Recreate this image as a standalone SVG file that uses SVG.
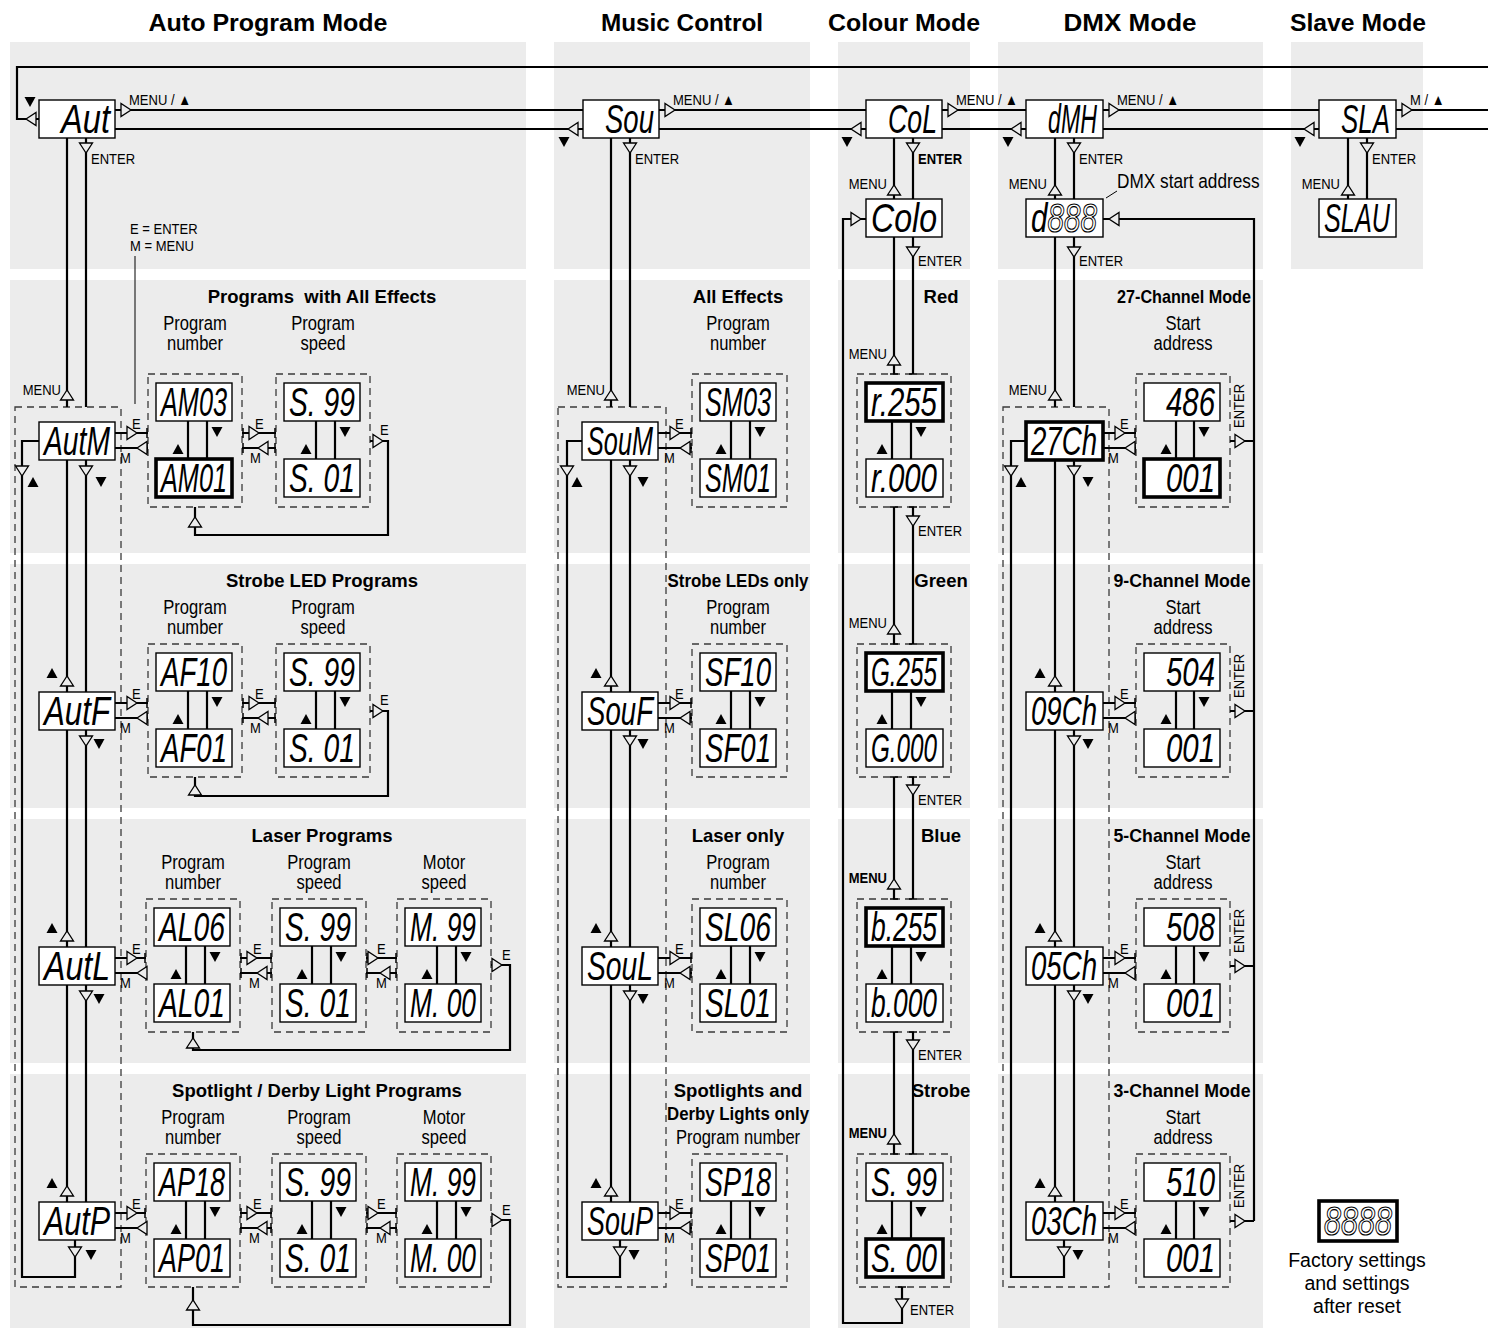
<svg xmlns="http://www.w3.org/2000/svg" width="1488" height="1337" viewBox="0 0 1488 1337">
<style>
.bg{fill:#ececec}
.ln{fill:none;stroke:#000;stroke-width:2.2}
.tk{fill:none;stroke:#000;stroke-width:1.5}
.thin{fill:none;stroke:#000;stroke-width:1}
.dsh{fill:none;stroke:#3a3a3a;stroke-width:1.3;stroke-dasharray:7 5}
.bx{fill:#fff;stroke:#000;stroke-width:1.4}
.bk{fill:#fff;stroke:#000;stroke-width:3.6}
.oa{fill:#ececec;stroke:#000;stroke-width:1.3}
.d{font-family:"Liberation Sans",Arial,sans-serif;font-style:italic;font-size:28px;fill:#000}
.hol{fill:none;stroke:#000;stroke-width:0.8}
.h1{font-family:"Liberation Sans",Arial,sans-serif;font-weight:bold;font-size:24.5px;text-anchor:middle}
.h2{font-family:"Liberation Sans",Arial,sans-serif;font-weight:bold;font-size:18.5px;text-anchor:middle}
.lb{font-family:"Liberation Sans",Arial,sans-serif;font-size:19.5px;text-anchor:middle;transform:scaleX(.85);transform-box:fill-box;transform-origin:center}
.s{font-family:"Liberation Sans",Arial,sans-serif;font-size:15.5px;transform:scaleX(.84);transform-box:fill-box;transform-origin:left center}
.r{font-family:"Liberation Sans",Arial,sans-serif;font-size:15.5px;text-anchor:middle}
.ft{font-family:"Liberation Sans",Arial,sans-serif;font-size:19.5px;text-anchor:middle}
.e{text-anchor:end;transform-origin:right center}
.b{font-weight:bold}
</style>
<defs>
<polygon id="aR" class="oa" points="0,0 -10,-6.5 -10,6.5"/>
<polygon id="aL" class="oa" points="0,0 10,-6.5 10,6.5"/>
<polygon id="aD" class="oa" points="0,0 -6.5,-10 6.5,-10"/>
<polygon id="aU" class="oa" points="0,0 -6.5,10 6.5,10"/>
<polygon id="tU" points="0,-5 -5.5,5 5.5,5"/>
<polygon id="tD" points="0,5 -5.5,-5 5.5,-5"/>
</defs>
<rect width="1488" height="1337" fill="#fff"/>
<g id="panels">
<rect class="bg" x="10" y="42" width="516" height="227"/>
<rect class="bg" x="554" y="42" width="256" height="227"/>
<rect class="bg" x="838" y="42" width="132" height="227"/>
<rect class="bg" x="998" y="42" width="265" height="227"/>
<rect class="bg" x="1291" y="42" width="132" height="227"/>
<rect class="bg" x="10" y="280" width="516" height="273"/>
<rect class="bg" x="554" y="280" width="256" height="273"/>
<rect class="bg" x="838" y="280" width="132" height="273"/>
<rect class="bg" x="998" y="280" width="265" height="273"/>
<rect class="bg" x="10" y="564" width="516" height="244"/>
<rect class="bg" x="554" y="564" width="256" height="244"/>
<rect class="bg" x="838" y="564" width="132" height="244"/>
<rect class="bg" x="998" y="564" width="265" height="244"/>
<rect class="bg" x="10" y="819" width="516" height="244"/>
<rect class="bg" x="554" y="819" width="256" height="244"/>
<rect class="bg" x="838" y="819" width="132" height="244"/>
<rect class="bg" x="998" y="819" width="265" height="244"/>
<rect class="bg" x="10" y="1074" width="516" height="254"/>
<rect class="bg" x="554" y="1074" width="256" height="254"/>
<rect class="bg" x="838" y="1074" width="132" height="254"/>
<rect class="bg" x="998" y="1074" width="265" height="254"/>
</g>
<g id="titles">
<text class="h1" x="268" y="31" textLength="239" lengthAdjust="spacingAndGlyphs">Auto Program Mode</text>
<text class="h1" x="682" y="31" textLength="162" lengthAdjust="spacingAndGlyphs">Music Control</text>
<text class="h1" x="904" y="31" textLength="152" lengthAdjust="spacingAndGlyphs">Colour Mode</text>
<text class="h1" x="1130" y="31" textLength="133" lengthAdjust="spacingAndGlyphs">DMX Mode</text>
<text class="h1" x="1358" y="31" textLength="136" lengthAdjust="spacingAndGlyphs">Slave Mode</text>
</g>
<g id="frames">
<rect class="dsh" x="15" y="407" width="106" height="880"/>
<rect class="dsh" x="558" y="407" width="108" height="880"/>
<rect class="dsh" x="1003" y="407" width="106" height="880"/>
<rect class="dsh" x="148" y="374" width="94" height="133"/>
<rect class="dsh" x="276" y="374" width="94" height="133"/>
<rect class="dsh" x="148" y="644" width="94" height="133"/>
<rect class="dsh" x="276" y="644" width="94" height="133"/>
<rect class="dsh" x="146" y="899" width="94" height="133"/>
<rect class="dsh" x="272" y="899" width="94" height="133"/>
<rect class="dsh" x="397" y="899" width="94" height="133"/>
<rect class="dsh" x="146" y="1154" width="94" height="133"/>
<rect class="dsh" x="272" y="1154" width="94" height="133"/>
<rect class="dsh" x="397" y="1154" width="94" height="133"/>
<rect class="dsh" x="692" y="374" width="95" height="133"/>
<rect class="dsh" x="692" y="644" width="95" height="133"/>
<rect class="dsh" x="692" y="899" width="95" height="133"/>
<rect class="dsh" x="692" y="1154" width="95" height="133"/>
<rect class="dsh" x="857" y="374" width="94" height="133"/>
<rect class="dsh" x="857" y="644" width="94" height="133"/>
<rect class="dsh" x="857" y="899" width="94" height="133"/>
<rect class="dsh" x="857" y="1154" width="94" height="133"/>
<rect class="dsh" x="1136" y="374" width="94" height="133"/>
<rect class="dsh" x="1136" y="644" width="94" height="133"/>
<rect class="dsh" x="1136" y="899" width="94" height="133"/>
<rect class="dsh" x="1136" y="1154" width="94" height="133"/>
</g>
<g id="connectors">
<path class="ln" d="M1488 67H17V119H39 M115 110H1488 M115 129H1488"/>
<path class="ln" d="M67 138V407 M86 138V407 M611 138V407 M630 138V407 M894 138V199 M913 138V199 M894 237V374 M913 237V374 M1055 138V199 M1074 138V199 M1055 237V407 M1074 237V407 M1348 138V199 M1367 138V199"/>
<path class="ln" d="M894 507V644 M913 507V644 M894 777V899 M913 777V899 M894 1032V1154 M913 1032V1154 M902 1287V1323H843V219H866"/>
<path class="tk" d="M890 374h8 M909 374h8 M890 507h8 M909 507h8 M890 644h8 M909 644h8 M890 777h8 M909 777h8 M890 899h8 M909 899h8 M890 1032h8 M909 1032h8 M890 1154h8 M909 1154h8 M898 1287h8"/>
<path class="ln" d="M1103 219H1254V1221 M1230 441H1254 M1230 711H1254 M1230 966H1254 M1230 1221H1254"/>
<path class="ln" d="M67 460V692 M86 460V692 M67 730V947 M86 730V947 M67 985V1202 M86 985V1202 M39 441H22V1277H75V1240"/>
<path class="ln" d="M611 460V692 M630 460V692 M611 730V947 M630 730V947 M611 985V1202 M630 985V1202 M582 441H567V1277H620V1240"/>
<path class="ln" d="M1055 460V692 M1074 460V692 M1055 730V947 M1074 730V947 M1055 985V1202 M1074 985V1202 M1026 441H1011V1277H1064V1240"/>
<path class="ln" d="M115 433H148 M115 448H148 M242 433H276 M242 448H276 M370 441H388V535H195V507 M115 703H148 M115 718H148 M242 703H276 M242 718H276 M370 711H388V796H195V777"/>
<path class="ln" d="M115 958H146 M115 973H146 M240 958H272 M240 973H272 M366 958H397 M366 973H397 M491 965H510V1050H193V1032 M115 1213H146 M115 1228H146 M240 1213H272 M240 1228H272 M366 1213H397 M366 1228H397 M491 1220H510V1325H193V1287"/>
<path class="ln" d="M658 433H692 M658 448H692 M658 703H692 M658 718H692 M658 958H692 M658 973H692 M658 1213H692 M658 1228H692"/>
<path class="ln" d="M1103 433H1136 M1103 448H1136 M1103 703H1136 M1103 718H1136 M1103 958H1136 M1103 973H1136 M1103 1213H1136 M1103 1228H1136"/>
<path class="tk" d="M147 428v10 M147 443v10 M243 428v10 M243 443v10 M275 428v10 M275 443v10 M147 698v10 M147 713v10 M243 698v10 M243 713v10 M275 698v10 M275 713v10 M145 953v10 M145 968v10 M241 953v10 M241 968v10 M271 953v10 M271 968v10 M367 953v10 M367 968v10 M396 953v10 M396 968v10 M145 1208v10 M145 1223v10 M241 1208v10 M241 1223v10 M271 1208v10 M271 1223v10 M367 1208v10 M367 1223v10 M396 1208v10 M396 1223v10 M691 428v10 M691 443v10 M691 698v10 M691 713v10 M691 953v10 M691 968v10 M691 1208v10 M691 1223v10 M1135 428v10 M1135 443v10 M1135 698v10 M1135 713v10 M1135 953v10 M1135 968v10 M1135 1208v10 M1135 1223v10"/>
<path class="ln" d="M188 421V459 M207 421V459 M316 421V459 M335 421V459 M188 691V729 M207 691V729 M316 691V729 M335 691V729 M186 946V984 M205 946V984 M312 946V984 M331 946V984 M437 946V984 M456 946V984 M186 1201V1239 M205 1201V1239 M312 1201V1239 M331 1201V1239 M437 1201V1239 M456 1201V1239"/>
<path class="ln" d="M731 421V459 M750 421V459 M731 691V729 M750 691V729 M731 946V984 M750 946V984 M731 1201V1239 M750 1201V1239 M892 421V459 M911 421V459 M892 691V729 M911 691V729 M892 946V984 M911 946V984 M892 1201V1239 M911 1201V1239 M1176 421V459 M1194 421V459 M1176 691V729 M1194 691V729 M1176 946V984 M1194 946V984 M1176 1201V1239 M1194 1201V1239"/>
<path class="thin" d="M135 256V404 M1106 198L1117 191"/>
<use href="#aL" x="26" y="119"/>
<use href="#aR" x="131" y="110"/><use href="#aR" x="675" y="110"/><use href="#aR" x="958" y="110"/><use href="#aR" x="1119" y="110"/><use href="#aR" x="1412" y="110"/>
<use href="#aL" x="568" y="129"/><use href="#aL" x="851" y="129"/><use href="#aL" x="1011" y="129"/><use href="#aL" x="1304" y="129"/>
<use href="#aD" x="86" y="153"/><use href="#aD" x="630" y="153"/><use href="#aD" x="913" y="153"/><use href="#aD" x="1074" y="153"/><use href="#aD" x="1367" y="153"/>
<use href="#aU" x="894" y="185"/><use href="#aU" x="1055" y="185"/><use href="#aU" x="1348" y="185"/>
<use href="#aU" x="67" y="390"/><use href="#aU" x="611" y="390"/><use href="#aU" x="1055" y="390"/>
<use href="#aD" x="913" y="257"/><use href="#aD" x="1074" y="257"/>
<use href="#aR" x="861" y="219"/><use href="#aL" x="1109" y="219"/>
<use href="#aU" x="894" y="355"/><use href="#aU" x="894" y="624"/><use href="#aU" x="894" y="879"/><use href="#aU" x="894" y="1134"/>
<use href="#aD" x="913" y="526"/><use href="#aD" x="913" y="795"/><use href="#aD" x="913" y="1050"/><use href="#aD" x="902" y="1309"/>
<use href="#aD" x="22" y="476"/><use href="#aD" x="86" y="476"/><use href="#aD" x="86" y="746"/><use href="#aD" x="86" y="1001"/>
<use href="#aU" x="67" y="676"/><use href="#aU" x="67" y="931"/><use href="#aU" x="67" y="1186"/><use href="#aD" x="75" y="1257"/>
<use href="#aD" x="567" y="476"/><use href="#aD" x="630" y="476"/><use href="#aD" x="630" y="746"/><use href="#aD" x="630" y="1001"/>
<use href="#aU" x="611" y="676"/><use href="#aU" x="611" y="931"/><use href="#aU" x="611" y="1186"/><use href="#aD" x="620" y="1257"/>
<use href="#aD" x="1011" y="476"/><use href="#aD" x="1074" y="476"/><use href="#aD" x="1074" y="746"/><use href="#aD" x="1074" y="1001"/>
<use href="#aU" x="1055" y="676"/><use href="#aU" x="1055" y="931"/><use href="#aU" x="1055" y="1186"/><use href="#aD" x="1064" y="1257"/>
<use href="#aR" x="1245" y="441"/><use href="#aR" x="1245" y="711"/><use href="#aR" x="1245" y="966"/><use href="#aR" x="1245" y="1221"/>
<use href="#aR" x="137" y="433"/><use href="#aL" x="137" y="448"/><use href="#aR" x="259" y="433"/><use href="#aL" x="258" y="448"/><use href="#aR" x="383" y="441"/><use href="#aU" x="195" y="517"/>
<use href="#aR" x="137" y="703"/><use href="#aL" x="137" y="718"/><use href="#aR" x="259" y="703"/><use href="#aL" x="258" y="718"/><use href="#aR" x="383" y="711"/><use href="#aU" x="195" y="785"/>
<use href="#aR" x="137" y="958"/><use href="#aL" x="137" y="973"/><use href="#aR" x="257" y="958"/><use href="#aL" x="257" y="973"/><use href="#aR" x="378" y="958"/><use href="#aL" x="380" y="973"/><use href="#aR" x="502" y="965"/><use href="#aU" x="193" y="1038"/>
<use href="#aR" x="137" y="1213"/><use href="#aL" x="137" y="1228"/><use href="#aR" x="257" y="1213"/><use href="#aL" x="257" y="1228"/><use href="#aR" x="378" y="1213"/><use href="#aL" x="380" y="1228"/><use href="#aR" x="502" y="1220"/><use href="#aU" x="193" y="1300"/>
<use href="#aR" x="680" y="433"/><use href="#aL" x="680" y="448"/><use href="#aR" x="680" y="703"/><use href="#aL" x="680" y="718"/><use href="#aR" x="680" y="958"/><use href="#aL" x="680" y="973"/><use href="#aR" x="680" y="1213"/><use href="#aL" x="680" y="1228"/>
<use href="#aR" x="1125" y="433"/><use href="#aL" x="1125" y="448"/><use href="#aR" x="1125" y="703"/><use href="#aL" x="1125" y="718"/><use href="#aR" x="1125" y="958"/><use href="#aL" x="1125" y="973"/><use href="#aR" x="1125" y="1213"/><use href="#aL" x="1125" y="1228"/>
</g>
<g id="keys">
<use href="#tD" x="30" y="102"/><use href="#tD" x="564" y="142"/><use href="#tD" x="847" y="142"/><use href="#tD" x="1008" y="142"/><use href="#tD" x="1300" y="142"/>
<use href="#tU" x="33" y="482"/><use href="#tD" x="101" y="482"/><use href="#tU" x="52" y="673"/><use href="#tD" x="99" y="744"/><use href="#tU" x="52" y="928"/><use href="#tD" x="99" y="999"/><use href="#tU" x="52" y="1183"/><use href="#tD" x="91" y="1255"/>
<use href="#tU" x="577" y="482"/><use href="#tD" x="643" y="482"/><use href="#tU" x="596" y="673"/><use href="#tD" x="643" y="744"/><use href="#tU" x="596" y="928"/><use href="#tD" x="643" y="999"/><use href="#tU" x="596" y="1183"/><use href="#tD" x="634" y="1255"/>
<use href="#tU" x="1021" y="482"/><use href="#tD" x="1088" y="482"/><use href="#tU" x="1040" y="673"/><use href="#tD" x="1088" y="744"/><use href="#tU" x="1040" y="928"/><use href="#tD" x="1088" y="999"/><use href="#tU" x="1040" y="1183"/><use href="#tD" x="1078" y="1255"/>
<use href="#tU" x="178" y="449"/><use href="#tD" x="217" y="432"/><use href="#tU" x="306" y="449"/><use href="#tD" x="345" y="432"/>
<use href="#tU" x="178" y="719"/><use href="#tD" x="217" y="702"/><use href="#tU" x="306" y="719"/><use href="#tD" x="345" y="702"/>
<use href="#tU" x="176" y="974"/><use href="#tD" x="215" y="957"/><use href="#tU" x="302" y="974"/><use href="#tD" x="341" y="957"/><use href="#tU" x="427" y="974"/><use href="#tD" x="466" y="957"/>
<use href="#tU" x="176" y="1229"/><use href="#tD" x="215" y="1212"/><use href="#tU" x="302" y="1229"/><use href="#tD" x="341" y="1212"/><use href="#tU" x="427" y="1229"/><use href="#tD" x="466" y="1212"/>
<use href="#tU" x="721" y="449"/><use href="#tD" x="760" y="432"/><use href="#tU" x="721" y="719"/><use href="#tD" x="760" y="702"/><use href="#tU" x="721" y="974"/><use href="#tD" x="760" y="957"/><use href="#tU" x="721" y="1229"/><use href="#tD" x="760" y="1212"/>
<use href="#tU" x="882" y="449"/><use href="#tD" x="921" y="432"/><use href="#tU" x="882" y="719"/><use href="#tD" x="921" y="702"/><use href="#tU" x="882" y="974"/><use href="#tD" x="921" y="957"/><use href="#tU" x="882" y="1229"/><use href="#tD" x="921" y="1212"/>
<use href="#tU" x="1166" y="449"/><use href="#tD" x="1204" y="432"/><use href="#tU" x="1166" y="719"/><use href="#tD" x="1204" y="702"/><use href="#tU" x="1166" y="974"/><use href="#tD" x="1204" y="957"/><use href="#tU" x="1166" y="1229"/><use href="#tD" x="1204" y="1212"/>
</g>
<g id="nodes">
<g id="n-aut"><rect class="bx" x="39" y="100" width="76" height="38"/><text class="d" transform="translate(61 133) scale(1 1.45)" textLength="49" lengthAdjust="spacingAndGlyphs">Aut</text></g>
<g id="n-sou"><rect class="bx" x="583" y="100" width="76" height="38"/><text class="d" transform="translate(605 133) scale(1 1.45)" textLength="49" lengthAdjust="spacingAndGlyphs">Sou</text></g>
<g id="n-col"><rect class="bx" x="866" y="100" width="76" height="38"/><text class="d" transform="translate(888 133) scale(1 1.45)" textLength="49" lengthAdjust="spacingAndGlyphs">CoL</text></g>
<g id="n-dmx"><rect class="bx" x="1026" y="100" width="77" height="38"/><text class="d" transform="translate(1048 133) scale(1 1.45)" textLength="49" lengthAdjust="spacingAndGlyphs">dMH</text></g>
<g id="n-sla"><rect class="bx" x="1319" y="100" width="77" height="38"/><text class="d" transform="translate(1341 133) scale(1 1.45)" textLength="49" lengthAdjust="spacingAndGlyphs">SLA</text></g>
<g id="n-colo"><rect class="bx" x="866" y="199" width="76" height="38"/><text class="d" transform="translate(871 232) scale(1 1.45)" textLength="66" lengthAdjust="spacingAndGlyphs">Colo</text></g>
<g id="n-d888"><rect class="bx" x="1026" y="199" width="77" height="38"/><text class="d" transform="translate(1031 232) scale(1 1.45)" textLength="66" lengthAdjust="spacingAndGlyphs">d<tspan class="hol">888</tspan></text></g>
<g id="n-slau"><rect class="bx" x="1319" y="199" width="77" height="38"/><text class="d" transform="translate(1324 232) scale(1 1.45)" textLength="66" lengthAdjust="spacingAndGlyphs">SLAU</text></g>
<g id="n-autm"><rect class="bx" x="39" y="422" width="76" height="38"/><text class="d" transform="translate(44 455) scale(1 1.45)" textLength="66" lengthAdjust="spacingAndGlyphs">AutM</text></g>
<g id="n-autf"><rect class="bx" x="39" y="692" width="76" height="38"/><text class="d" transform="translate(44 725) scale(1 1.45)" textLength="66" lengthAdjust="spacingAndGlyphs">AutF</text></g>
<g id="n-autl"><rect class="bx" x="39" y="947" width="76" height="38"/><text class="d" transform="translate(44 980) scale(1 1.45)" textLength="66" lengthAdjust="spacingAndGlyphs">AutL</text></g>
<g id="n-autp"><rect class="bx" x="39" y="1202" width="76" height="38"/><text class="d" transform="translate(44 1235) scale(1 1.45)" textLength="66" lengthAdjust="spacingAndGlyphs">AutP</text></g>
<g id="n-soum"><rect class="bx" x="582" y="422" width="76" height="38"/><text class="d" transform="translate(587 455) scale(1 1.45)" textLength="66" lengthAdjust="spacingAndGlyphs">SouM</text></g>
<g id="n-souf"><rect class="bx" x="582" y="692" width="76" height="38"/><text class="d" transform="translate(587 725) scale(1 1.45)" textLength="66" lengthAdjust="spacingAndGlyphs">SouF</text></g>
<g id="n-soul"><rect class="bx" x="582" y="947" width="76" height="38"/><text class="d" transform="translate(587 980) scale(1 1.45)" textLength="66" lengthAdjust="spacingAndGlyphs">SouL</text></g>
<g id="n-soup"><rect class="bx" x="582" y="1202" width="76" height="38"/><text class="d" transform="translate(587 1235) scale(1 1.45)" textLength="66" lengthAdjust="spacingAndGlyphs">SouP</text></g>
<g id="n-27ch"><rect class="bk" x="1026" y="422" width="77" height="38"/><text class="d" transform="translate(1031 455) scale(1 1.45)" textLength="66" lengthAdjust="spacingAndGlyphs">27Ch</text></g>
<g id="n-09ch"><rect class="bx" x="1026" y="692" width="77" height="38"/><text class="d" transform="translate(1031 725) scale(1 1.45)" textLength="66" lengthAdjust="spacingAndGlyphs">09Ch</text></g>
<g id="n-05ch"><rect class="bx" x="1026" y="947" width="77" height="38"/><text class="d" transform="translate(1031 980) scale(1 1.45)" textLength="66" lengthAdjust="spacingAndGlyphs">05Ch</text></g>
<g id="n-03ch"><rect class="bx" x="1026" y="1202" width="77" height="38"/><text class="d" transform="translate(1031 1235) scale(1 1.45)" textLength="66" lengthAdjust="spacingAndGlyphs">03Ch</text></g>
<g id="n-am03"><rect class="bx" x="156" y="383" width="76" height="38"/><text class="d" transform="translate(161 416) scale(1 1.45)" textLength="66" lengthAdjust="spacingAndGlyphs">AM03</text></g>
<g id="n-am01"><rect class="bk" x="156" y="459" width="76" height="38"/><text class="d" transform="translate(161 492) scale(1 1.45)" textLength="66" lengthAdjust="spacingAndGlyphs">AM01</text></g>
<g id="n-as1t"><rect class="bx" x="284" y="383" width="76" height="38"/><text class="d" transform="translate(289 416) scale(1 1.45)" textLength="66" lengthAdjust="spacingAndGlyphs">S. 99</text></g>
<g id="n-as1b"><rect class="bx" x="284" y="459" width="76" height="38"/><text class="d" transform="translate(289 492) scale(1 1.45)" textLength="66" lengthAdjust="spacingAndGlyphs">S. 01</text></g>
<g id="n-af10"><rect class="bx" x="156" y="653" width="76" height="38"/><text class="d" transform="translate(161 686) scale(1 1.45)" textLength="66" lengthAdjust="spacingAndGlyphs">AF10</text></g>
<g id="n-af01"><rect class="bx" x="156" y="729" width="76" height="38"/><text class="d" transform="translate(161 762) scale(1 1.45)" textLength="66" lengthAdjust="spacingAndGlyphs">AF01</text></g>
<g id="n-as2t"><rect class="bx" x="284" y="653" width="76" height="38"/><text class="d" transform="translate(289 686) scale(1 1.45)" textLength="66" lengthAdjust="spacingAndGlyphs">S. 99</text></g>
<g id="n-as2b"><rect class="bx" x="284" y="729" width="76" height="38"/><text class="d" transform="translate(289 762) scale(1 1.45)" textLength="66" lengthAdjust="spacingAndGlyphs">S. 01</text></g>
<g id="n-al06"><rect class="bx" x="154" y="908" width="76" height="38"/><text class="d" transform="translate(159 941) scale(1 1.45)" textLength="66" lengthAdjust="spacingAndGlyphs">AL06</text></g>
<g id="n-al01"><rect class="bx" x="154" y="984" width="76" height="38"/><text class="d" transform="translate(159 1017) scale(1 1.45)" textLength="66" lengthAdjust="spacingAndGlyphs">AL01</text></g>
<g id="n-as3t"><rect class="bx" x="280" y="908" width="76" height="38"/><text class="d" transform="translate(285 941) scale(1 1.45)" textLength="66" lengthAdjust="spacingAndGlyphs">S. 99</text></g>
<g id="n-as3b"><rect class="bx" x="280" y="984" width="76" height="38"/><text class="d" transform="translate(285 1017) scale(1 1.45)" textLength="66" lengthAdjust="spacingAndGlyphs">S. 01</text></g>
<g id="n-am3t"><rect class="bx" x="405" y="908" width="76" height="38"/><text class="d" transform="translate(410 941) scale(1 1.45)" textLength="66" lengthAdjust="spacingAndGlyphs">M. 99</text></g>
<g id="n-am3b"><rect class="bx" x="405" y="984" width="76" height="38"/><text class="d" transform="translate(410 1017) scale(1 1.45)" textLength="66" lengthAdjust="spacingAndGlyphs">M. 00</text></g>
<g id="n-ap18"><rect class="bx" x="154" y="1163" width="76" height="38"/><text class="d" transform="translate(159 1196) scale(1 1.45)" textLength="66" lengthAdjust="spacingAndGlyphs">AP18</text></g>
<g id="n-ap01"><rect class="bx" x="154" y="1239" width="76" height="38"/><text class="d" transform="translate(159 1272) scale(1 1.45)" textLength="66" lengthAdjust="spacingAndGlyphs">AP01</text></g>
<g id="n-as4t"><rect class="bx" x="280" y="1163" width="76" height="38"/><text class="d" transform="translate(285 1196) scale(1 1.45)" textLength="66" lengthAdjust="spacingAndGlyphs">S. 99</text></g>
<g id="n-as4b"><rect class="bx" x="280" y="1239" width="76" height="38"/><text class="d" transform="translate(285 1272) scale(1 1.45)" textLength="66" lengthAdjust="spacingAndGlyphs">S. 01</text></g>
<g id="n-am4t"><rect class="bx" x="405" y="1163" width="76" height="38"/><text class="d" transform="translate(410 1196) scale(1 1.45)" textLength="66" lengthAdjust="spacingAndGlyphs">M. 99</text></g>
<g id="n-am4b"><rect class="bx" x="405" y="1239" width="76" height="38"/><text class="d" transform="translate(410 1272) scale(1 1.45)" textLength="66" lengthAdjust="spacingAndGlyphs">M. 00</text></g>
<g id="n-sm03"><rect class="bx" x="700" y="383" width="76" height="38"/><text class="d" transform="translate(705 416) scale(1 1.45)" textLength="66" lengthAdjust="spacingAndGlyphs">SM03</text></g>
<g id="n-sm01"><rect class="bx" x="700" y="459" width="76" height="38"/><text class="d" transform="translate(705 492) scale(1 1.45)" textLength="66" lengthAdjust="spacingAndGlyphs">SM01</text></g>
<g id="n-sf10"><rect class="bx" x="700" y="653" width="76" height="38"/><text class="d" transform="translate(705 686) scale(1 1.45)" textLength="66" lengthAdjust="spacingAndGlyphs">SF10</text></g>
<g id="n-sf01"><rect class="bx" x="700" y="729" width="76" height="38"/><text class="d" transform="translate(705 762) scale(1 1.45)" textLength="66" lengthAdjust="spacingAndGlyphs">SF01</text></g>
<g id="n-sl06"><rect class="bx" x="700" y="908" width="76" height="38"/><text class="d" transform="translate(705 941) scale(1 1.45)" textLength="66" lengthAdjust="spacingAndGlyphs">SL06</text></g>
<g id="n-sl01"><rect class="bx" x="700" y="984" width="76" height="38"/><text class="d" transform="translate(705 1017) scale(1 1.45)" textLength="66" lengthAdjust="spacingAndGlyphs">SL01</text></g>
<g id="n-sp18"><rect class="bx" x="700" y="1163" width="76" height="38"/><text class="d" transform="translate(705 1196) scale(1 1.45)" textLength="66" lengthAdjust="spacingAndGlyphs">SP18</text></g>
<g id="n-sp01"><rect class="bx" x="700" y="1239" width="76" height="38"/><text class="d" transform="translate(705 1272) scale(1 1.45)" textLength="66" lengthAdjust="spacingAndGlyphs">SP01</text></g>
<g id="n-r255"><rect class="bk" x="866" y="383" width="77" height="38"/><text class="d" transform="translate(871 416) scale(1 1.45)" textLength="66" lengthAdjust="spacingAndGlyphs">r.255</text></g>
<g id="n-r000"><rect class="bx" x="866" y="459" width="77" height="38"/><text class="d" transform="translate(871 492) scale(1 1.45)" textLength="66" lengthAdjust="spacingAndGlyphs">r.000</text></g>
<g id="n-g255"><rect class="bk" x="866" y="653" width="77" height="38"/><text class="d" transform="translate(871 686) scale(1 1.45)" textLength="66" lengthAdjust="spacingAndGlyphs">G.255</text></g>
<g id="n-g000"><rect class="bx" x="866" y="729" width="77" height="38"/><text class="d" transform="translate(871 762) scale(1 1.45)" textLength="66" lengthAdjust="spacingAndGlyphs">G.000</text></g>
<g id="n-b255"><rect class="bk" x="866" y="908" width="77" height="38"/><text class="d" transform="translate(871 941) scale(1 1.45)" textLength="66" lengthAdjust="spacingAndGlyphs">b.255</text></g>
<g id="n-b000"><rect class="bx" x="866" y="984" width="77" height="38"/><text class="d" transform="translate(871 1017) scale(1 1.45)" textLength="66" lengthAdjust="spacingAndGlyphs">b.000</text></g>
<g id="n-cs99"><rect class="bx" x="866" y="1163" width="77" height="38"/><text class="d" transform="translate(871 1196) scale(1 1.45)" textLength="66" lengthAdjust="spacingAndGlyphs">S. 99</text></g>
<g id="n-cs00"><rect class="bk" x="866" y="1239" width="77" height="38"/><text class="d" transform="translate(871 1272) scale(1 1.45)" textLength="66" lengthAdjust="spacingAndGlyphs">S. 00</text></g>
<g id="n-486"><rect class="bx" x="1144" y="383" width="76" height="38"/><text class="d" transform="translate(1166 416) scale(1 1.45)" textLength="49" lengthAdjust="spacingAndGlyphs">486</text></g>
<g id="n-001a"><rect class="bk" x="1144" y="459" width="76" height="38"/><text class="d" transform="translate(1166 492) scale(1 1.45)" textLength="49" lengthAdjust="spacingAndGlyphs">001</text></g>
<g id="n-504"><rect class="bx" x="1144" y="653" width="76" height="38"/><text class="d" transform="translate(1166 686) scale(1 1.45)" textLength="49" lengthAdjust="spacingAndGlyphs">504</text></g>
<g id="n-001b"><rect class="bx" x="1144" y="729" width="76" height="38"/><text class="d" transform="translate(1166 762) scale(1 1.45)" textLength="49" lengthAdjust="spacingAndGlyphs">001</text></g>
<g id="n-508"><rect class="bx" x="1144" y="908" width="76" height="38"/><text class="d" transform="translate(1166 941) scale(1 1.45)" textLength="49" lengthAdjust="spacingAndGlyphs">508</text></g>
<g id="n-001c"><rect class="bx" x="1144" y="984" width="76" height="38"/><text class="d" transform="translate(1166 1017) scale(1 1.45)" textLength="49" lengthAdjust="spacingAndGlyphs">001</text></g>
<g id="n-510"><rect class="bx" x="1144" y="1163" width="76" height="38"/><text class="d" transform="translate(1166 1196) scale(1 1.45)" textLength="49" lengthAdjust="spacingAndGlyphs">510</text></g>
<g id="n-001d"><rect class="bx" x="1144" y="1239" width="76" height="38"/><text class="d" transform="translate(1166 1272) scale(1 1.45)" textLength="49" lengthAdjust="spacingAndGlyphs">001</text></g>
<g id="n-8888"><rect class="bk" x="1319" y="1201" width="78" height="40"/><text class="d hol" transform="translate(1324 1235) scale(1 1.45)" textLength="68" lengthAdjust="spacingAndGlyphs">8888</text></g>
</g>
<g id="labels">
<text class="s" x="129" y="105">MENU / ▲</text>
<text class="s" x="673" y="105">MENU / ▲</text>
<text class="s" x="956" y="105">MENU / ▲</text>
<text class="s" x="1117" y="105">MENU / ▲</text>
<text class="s" x="1410" y="105">M / ▲</text>
<text class="s" x="91" y="164">ENTER</text>
<text class="s" x="635" y="164">ENTER</text>
<text class="s b" x="918" y="164">ENTER</text>
<text class="s" x="1079" y="164">ENTER</text>
<text class="s" x="1372" y="164">ENTER</text>
<text class="s" x="918" y="266">ENTER</text>
<text class="s" x="1079" y="266">ENTER</text>
<text class="s" x="918" y="536">ENTER</text>
<text class="s" x="918" y="805">ENTER</text>
<text class="s" x="918" y="1060">ENTER</text>
<text class="s" x="910" y="1315">ENTER</text>
<text class="s e" x="61" y="395">MENU</text>
<text class="s e" x="605" y="395">MENU</text>
<text class="s e" x="1047" y="395">MENU</text>
<text class="s e" x="887" y="189">MENU</text>
<text class="s e" x="1047" y="189">MENU</text>
<text class="s e" x="1340" y="189">MENU</text>
<text class="s e" x="887" y="359">MENU</text>
<text class="s e" x="887" y="628">MENU</text>
<text class="s e b" x="887" y="883">MENU</text>
<text class="s e b" x="887" y="1138">MENU</text>
<text class="s" x="130" y="234">E = ENTER</text>
<text class="s" x="130" y="251">M = MENU</text>
<text class="s" x="1117" y="188" style="font-size:20.5px">DMX start address</text>
<text class="r" transform="translate(1244,406) rotate(-90) scale(0.84,1)">ENTER</text>
<text class="r" transform="translate(1244,676) rotate(-90) scale(0.84,1)">ENTER</text>
<text class="r" transform="translate(1244,931) rotate(-90) scale(0.84,1)">ENTER</text>
<text class="r" transform="translate(1244,1186) rotate(-90) scale(0.84,1)">ENTER</text>
<text class="s" x="132" y="429">E</text><text class="s" x="120" y="463">M</text><text class="s" x="255" y="429">E</text><text class="s" x="250" y="463">M</text><text class="s" x="380" y="435">E</text>
<text class="s" x="132" y="699">E</text><text class="s" x="120" y="733">M</text><text class="s" x="255" y="699">E</text><text class="s" x="250" y="733">M</text><text class="s" x="380" y="705">E</text>
<text class="s" x="132" y="954">E</text><text class="s" x="120" y="988">M</text><text class="s" x="253" y="954">E</text><text class="s" x="249" y="988">M</text><text class="s" x="377" y="954">E</text><text class="s" x="376" y="988">M</text><text class="s" x="502" y="960">E</text>
<text class="s" x="132" y="1209">E</text><text class="s" x="120" y="1243">M</text><text class="s" x="253" y="1209">E</text><text class="s" x="249" y="1243">M</text><text class="s" x="377" y="1209">E</text><text class="s" x="376" y="1243">M</text><text class="s" x="502" y="1215">E</text>
<text class="s" x="675" y="429">E</text><text class="s" x="664" y="463">M</text><text class="s" x="675" y="699">E</text><text class="s" x="664" y="733">M</text><text class="s" x="675" y="954">E</text><text class="s" x="664" y="988">M</text><text class="s" x="675" y="1209">E</text><text class="s" x="664" y="1243">M</text>
<text class="s" x="1120" y="429">E</text><text class="s" x="1108" y="463">M</text><text class="s" x="1120" y="699">E</text><text class="s" x="1108" y="733">M</text><text class="s" x="1120" y="954">E</text><text class="s" x="1108" y="988">M</text><text class="s" x="1120" y="1209">E</text><text class="s" x="1108" y="1243">M</text>
<text class="h2" x="322" y="303" style="white-space:pre">Programs  with All Effects</text>
<text class="h2" x="322" y="587">Strobe LED Programs</text>
<text class="h2" x="322" y="842">Laser Programs</text>
<text class="h2" x="317" y="1097">Spotlight / Derby Light Programs</text>
<text class="h2" x="738" y="303">All Effects</text>
<text class="h2" x="738" y="587" textLength="141" lengthAdjust="spacingAndGlyphs">Strobe LEDs only</text>
<text class="h2" x="738" y="842">Laser only</text>
<text class="h2" x="738" y="1097">Spotlights and</text>
<text class="h2" x="738" y="1120" textLength="142" lengthAdjust="spacingAndGlyphs">Derby Lights only</text>
<text class="h2" x="941" y="303">Red</text>
<text class="h2" x="941" y="587">Green</text>
<text class="h2" x="941" y="842">Blue</text>
<text class="h2" x="941" y="1097">Strobe</text>
<text class="h2" x="1184" y="303" textLength="134" lengthAdjust="spacingAndGlyphs">27-Channel Mode</text>
<text class="h2" x="1182" y="587" textLength="137" lengthAdjust="spacingAndGlyphs">9-Channel Mode</text>
<text class="h2" x="1182" y="842" textLength="137" lengthAdjust="spacingAndGlyphs">5-Channel Mode</text>
<text class="h2" x="1182" y="1097" textLength="137" lengthAdjust="spacingAndGlyphs">3-Channel Mode</text>
<text class="lb" x="195" y="330">Program</text><text class="lb" x="195" y="350">number</text>
<text class="lb" x="323" y="330">Program</text><text class="lb" x="323" y="350">speed</text>
<text class="lb" x="195" y="614">Program</text><text class="lb" x="195" y="634">number</text>
<text class="lb" x="323" y="614">Program</text><text class="lb" x="323" y="634">speed</text>
<text class="lb" x="193" y="869">Program</text><text class="lb" x="193" y="889">number</text>
<text class="lb" x="319" y="869">Program</text><text class="lb" x="319" y="889">speed</text>
<text class="lb" x="444" y="869">Motor</text><text class="lb" x="444" y="889">speed</text>
<text class="lb" x="193" y="1124">Program</text><text class="lb" x="193" y="1144">number</text>
<text class="lb" x="319" y="1124">Program</text><text class="lb" x="319" y="1144">speed</text>
<text class="lb" x="444" y="1124">Motor</text><text class="lb" x="444" y="1144">speed</text>
<text class="lb" x="738" y="330">Program</text><text class="lb" x="738" y="350">number</text>
<text class="lb" x="738" y="614">Program</text><text class="lb" x="738" y="634">number</text>
<text class="lb" x="738" y="869">Program</text><text class="lb" x="738" y="889">number</text>
<text class="lb" x="738" y="1144">Program number</text>
<text class="lb" x="1183" y="330">Start</text><text class="lb" x="1183" y="350">address</text>
<text class="lb" x="1183" y="614">Start</text><text class="lb" x="1183" y="634">address</text>
<text class="lb" x="1183" y="869">Start</text><text class="lb" x="1183" y="889">address</text>
<text class="lb" x="1183" y="1124">Start</text><text class="lb" x="1183" y="1144">address</text>
<text class="ft" x="1357" y="1267">Factory settings</text>
<text class="ft" x="1357" y="1290">and settings</text>
<text class="ft" x="1357" y="1313">after reset</text>
</g>
</svg>
